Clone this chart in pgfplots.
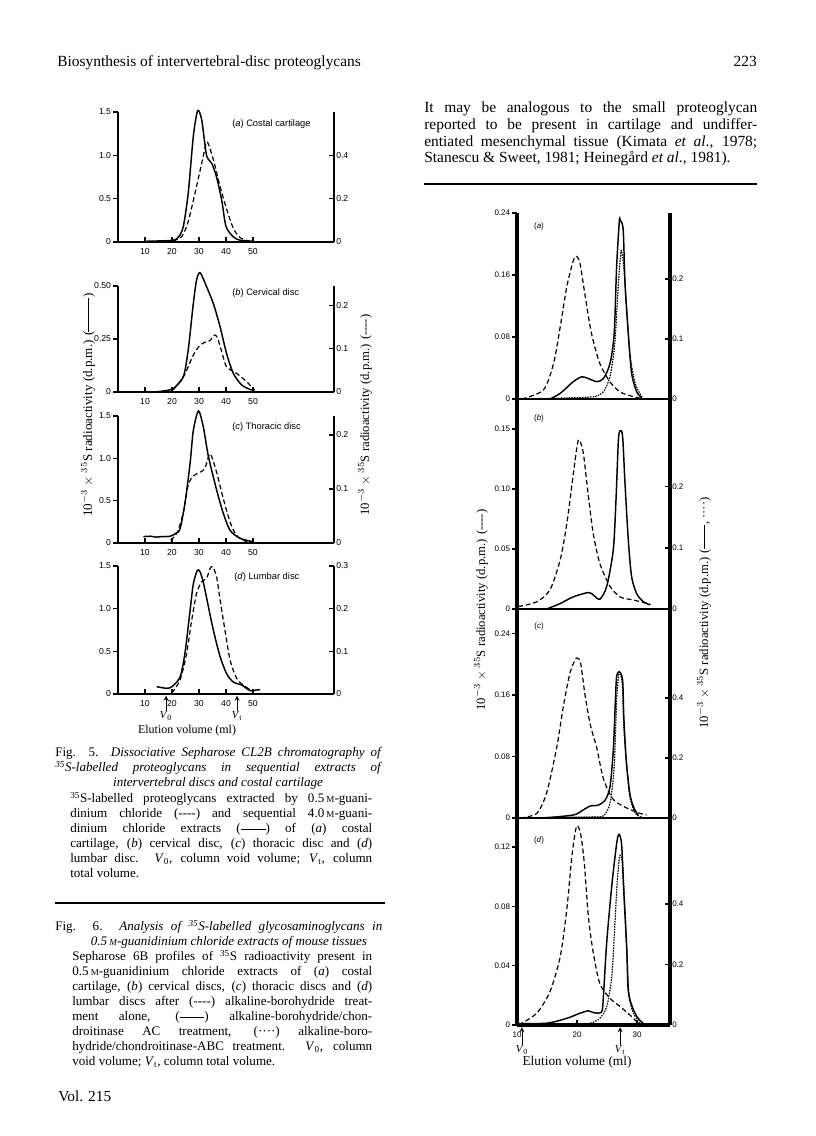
\documentclass[border=0pt]{standalone}
\usepackage{fontspec}
\setmainfont{Liberation Serif}
\setsansfont{Liberation Sans}
\usepackage{pgfplots}
\pgfplotsset{compat=1.18}
\newcommand\M{{\fontsize{6.8}{7}\selectfont M}}
\newcommand\srule{\rule[0.55ex]{1.9em}{0.45pt}}
\newcommand\lrule{\rule[0.55ex]{2.6em}{0.5pt}}
\newcommand\dsh{-{}-{}-{}-}
\tikzset{
 solidc/.style={black, line width=1.1pt, smooth, tension=0.45},
 dashc/.style={black, line width=0.9pt, dash pattern=on 3.6pt off 2.2pt, smooth, tension=0.45},
 dotc/.style={black, line width=1pt, dash pattern=on 0.5pt off 1.5pt, line cap=round, smooth, tension=0.45},
 arr/.style={->, >=stealth, line width=0.7pt},
 ln/.style={anchor=base west, inner sep=0pt},
}
\pgfplotsset{
 fbase/.style={scale only axis, clip=false, anchor=south west, ymin=0,
   tick label style={font=\sffamily\fontsize{6.5}{7}\selectfont, inner sep=1.5pt},
   major tick length=3.5pt, every tick/.style={black, line width=0.9pt}},
 f5L/.style={fbase, xmin=0, xmax=80, width=162pt, axis x line*=bottom, axis y line*=left,
   axis line style={-, line width=1.1pt}, x axis line style={-, line width=1.6pt},
   xtick={10,20,30,40,50}, xticklabels={10,20,30,40,50}, tick align=outside,
   every x tick/.append style={yshift=3.5pt}},
 f5R/.style={fbase, xmin=0, xmax=80, width=162pt, axis x line=none, axis y line*=right,
   axis line style={-, line width=1.8pt}, xtick=\empty, tick align=inside},
 f6L/.style={fbase, xmin=10, xmax=35.5, width=114.75pt, axis x line*=bottom, axis y line*=left,
   axis line style={-}, y axis line style={-, line width=3pt}, x axis line style={-, line width=0.8pt},
   xtick=\empty, tick align=outside, tick label style={font=\sffamily\fontsize{6}{7}\selectfont}},
 f6R/.style={fbase, xmin=10, xmax=35.5, width=114.75pt, axis x line=none, axis y line*=right,
   axis line style={-, line width=2.6pt}, xtick=\empty, tick align=inside,
   tick label style={font=\sffamily\fontsize{6}{7}\selectfont}},
}
\begin{document}
\begin{tikzpicture}[x=0.75pt,y=0.75pt]
\fill[white] (0,0) rectangle (816,1136);
\useasboundingbox (0,0) rectangle (816,1136);

% ---------- page text ----------
\node[ln, font=\fontsize{11.6}{13}\selectfont] at (57,{1136-67}) {Biosynthesis of intervertebral-disc proteoglycans};
\node[anchor=base east, inner sep=0pt, font=\fontsize{11.6}{13}\selectfont] at (757,{1136-67}) {223};

\begin{scope}[font=\fontsize{11.6}{13}\selectfont]
\node[ln] at (424,{1136-113}) {\makebox[249.75pt][s]{It may be analogous to the small proteoglycan}};
\node[ln] at (424,{1136-130}) {\makebox[249.75pt][s]{reported to be present in cartilage and undiffer-}};
\node[ln] at (424,{1136-147}) {\makebox[249.75pt][s]{entiated mesenchymal tissue (Kimata \textit{et al}., 1978;}};
\node[ln] at (424,{1136-163}) {Stanescu \& Sweet, 1981; Heinegård \textit{et al}., 1981).};
\end{scope}
\draw[line width=1pt] (424,{1136-184}) -- (757,{1136-184});

\begin{scope}[font=\fontsize{9.8}{11}\selectfont]
\node[ln] at (55,{1136-757}) {\makebox[245.25pt][s]{Fig. 5. \textit{Dissociative Sepharose CL2B chromatography of}}};
\node[ln] at (55,{1136-772}) {\makebox[245.25pt][s]{\textit{\textsuperscript{35}S-labelled proteoglycans in sequential extracts of}}};
\node[anchor=base, inner sep=0pt] at (218,{1136-787}) {\textit{intervertebral discs and costal cartilage}};
\node[ln] at (70,{1136-803}) {\makebox[226.5pt][s]{\textsuperscript{35}S-labelled proteoglycans extracted by 0.5\,\M-guani-}};
\node[ln] at (70,{1136-818}) {\makebox[226.5pt][s]{dinium chloride (\dsh) and sequential 4.0\,\M-guani-}};
\node[ln] at (70,{1136-833}) {\makebox[226.5pt][s]{dinium chloride extracts (\srule) of (\textit{a}) costal}};
\node[ln] at (70,{1136-848}) {\makebox[226.5pt][s]{cartilage, (\textit{b}) cervical disc, (\textit{c}) thoracic disc and (\textit{d})}};
\node[ln] at (70,{1136-863}) {\makebox[226.5pt][s]{lumbar disc. \textit{V}\textsubscript{0}, column void volume; \textit{V}\textsubscript{t}, column}};
\node[ln] at (70,{1136-878}) {total volume.};

\node[ln] at (55,{1136-931}) {\makebox[245.25pt][s]{Fig. 6. \textit{Analysis of \textsuperscript{35}S-labelled glycosaminoglycans in}}};
\node[anchor=base, inner sep=0pt] at (229,{1136-946}) {\textit{0.5\,\M-guanidinium chloride extracts of mouse tissues}};
\node[ln] at (72,{1136-961}) {\makebox[225pt][s]{Sepharose 6B profiles of \textsuperscript{35}S radioactivity present in}};
\node[ln] at (72,{1136-976}) {\makebox[225pt][s]{0.5\,\M-guanidinium chloride extracts of (\textit{a}) costal}};
\node[ln] at (72,{1136-991}) {\makebox[225pt][s]{cartilage, (\textit{b}) cervical discs, (\textit{c}) thoracic discs and (\textit{d})}};
\node[ln] at (72,{1136-1006}) {\makebox[225pt][s]{lumbar discs after (\dsh) alkaline-borohydride treat-}};
\node[ln] at (72,{1136-1021}) {\makebox[225pt][s]{ment alone, (\srule) alkaline-borohydride/chon-}};
\node[ln] at (72,{1136-1036}) {\makebox[225pt][s]{droitinase AC treatment, (····) alkaline-boro-}};
\node[ln] at (72,{1136-1051}) {\makebox[225pt][s]{hydride/chondroitinase-ABC treatment. \textit{V}\textsubscript{0}, column}};
\node[ln] at (72,{1136-1066}) {void volume; \textit{V}\textsubscript{t}, column total volume.};
\end{scope}
\draw[line width=1pt] (55,{1136-903}) -- (385,{1136-903});
\node[ln, font=\fontsize{11.5}{13}\selectfont] at (58,{1136-1101}) {Vol. 215};

% ---------- Fig. 5 ----------
% (a)
\begin{axis}[f5L, at={(88.5pt,670.5pt)}, height=97.5pt, ymax=1.5, ytick={0,0.5,1,1.5}, yticklabels={0,0.5,1.0,1.5}]
\addplot[solidc] coordinates {(10.6,0.01) (15,0.012) (20.4,0.02) (22.5,0.06) (24.2,0.18) (26.0,0.56) (27.9,1.22) (29.5,1.515) (31.0,1.41) (32.8,1.0) (34.7,0.91) (36.5,0.75) (38.4,0.485) (40,0.18) (42.7,0.06) (45.2,0.02) (50,0.01)};
\end{axis}
\begin{axis}[f5R, at={(88.5pt,670.5pt)}, height=97.5pt, ymax=0.6, ytick={0,0.2,0.4}, yticklabels={0,0.2,0.4}]
\addplot[dashc] coordinates {(20.4,0.005) (23.6,0.025) (26.0,0.094) (29.1,0.257) (31.6,0.397) (33.0,0.462) (35.3,0.381) (37.8,0.257) (40.3,0.149) (42.7,0.064) (45.2,0.02) (48.3,0.005)};
\end{axis}
% (b)
\begin{axis}[f5L, at={(88.5pt,558pt)}, height=79.5pt, ymax=0.5, ytick={0,0.25,0.5}, yticklabels={0,0.25,0.50}]
\addplot[solidc] coordinates {(13.1,0.0) (17,0.005) (20.5,0.017) (24.2,0.072) (26.0,0.198) (27.9,0.418) (29.1,0.528) (30.4,0.563) (32.8,0.497) (35.3,0.418) (37.8,0.308) (40.2,0.182) (42.7,0.088) (45.8,0.033) (49.5,0.009)};
\end{axis}
\begin{axis}[f5R, at={(88.5pt,558pt)}, height=79.5pt, ymax=0.244, ytick={0,0.1,0.2}, yticklabels={0,0.1,0.2}]
\addplot[dashc] coordinates {(20.5,0.005) (24.2,0.035) (26.0,0.058) (27.9,0.085) (30.4,0.108) (32.8,0.116) (34,0.118) (35.7,0.131) (36.8,0.125) (38.6,0.089) (40.2,0.058) (43.9,0.043) (47.6,0.024) (50.6,0.004)};
\end{axis}
% (c)
\begin{axis}[f5L, at={(88.5pt,444.75pt)}, height=95.25pt, ymax=1.5, ytick={0,0.5,1,1.5}, yticklabels={0,0.5,1.0,1.5}]
\addplot[solidc] coordinates {(9.4,0.075) (12,0.08) (14,0.07) (16,0.075) (19.3,0.08) (21.5,0.115) (23.0,0.17) (24.8,0.47) (26.7,0.94) (27.9,1.33) (29.8,1.56) (31.6,1.37) (33.5,1.02) (36.5,0.63) (39.0,0.35) (41.5,0.15) (45.2,0.055) (50.1,0.015)};
\end{axis}
\begin{axis}[f5R, at={(88.5pt,444.75pt)}, height=95.25pt, ymax=0.235, ytick={0,0.1,0.2}, yticklabels={0,0.1,0.2}]
\addplot[dashc] coordinates {(19.5,0.005) (22,0.02) (24.2,0.057) (26.0,0.107) (27.9,0.124) (30.4,0.131) (32.2,0.138) (34.1,0.165) (36.5,0.131) (39.0,0.082) (41.5,0.039) (43.9,0.014) (47.7,0.002) (50.7,0)};
\end{axis}
% (d)
\begin{axis}[f5L, at={(88.5pt,331.5pt)}, height=96pt, ymax=1.5, ytick={0,0.5,1,1.5}, yticklabels={0,0.5,1.0,1.5}]
\addplot[solidc] coordinates {(14.3,0.086) (18.0,0.067) (20.0,0.086) (23.0,0.2) (24.8,0.48) (26.7,0.98) (27.9,1.29) (29.4,1.45) (30.4,1.43) (31.6,1.31) (33.5,1.02) (35.3,0.75) (37.8,0.44) (40.2,0.24) (42.7,0.14) (45.8,0.105) (48.9,0.04) (51.3,0.047) (52.6,0.05)};
\draw[arr] (axis cs:17.8,-0.2) -- (axis cs:17.8,-0.02);
\draw[arr] (axis cs:44.1,-0.2) -- (axis cs:44.1,-0.02);
\node[anchor=north, inner sep=0.5pt, font=\fontsize{8}{9}\selectfont] at (axis cs:17.8,-0.2) {\textit{V}\textsubscript{0}};
\node[anchor=north, inner sep=0.5pt, font=\fontsize{8}{9}\selectfont] at (axis cs:44.1,-0.2) {\textit{V}\textsubscript{t}};
\end{axis}
\begin{axis}[f5R, at={(88.5pt,331.5pt)}, height=96pt, ymax=0.3, ytick={0,0.1,0.2,0.3}, yticklabels={0,0.1,0.2,0.3}]
\addplot[dashc] coordinates {(19.9,0.002) (23.0,0.033) (25.4,0.095) (27.3,0.173) (29.1,0.236) (31.0,0.263) (32.8,0.271) (34.1,0.294) (35.1,0.298) (36.5,0.275) (37.8,0.221) (39.6,0.15) (41.5,0.08) (43.9,0.037) (46.4,0.021) (50.1,0.005)};
\end{axis}
\begin{scope}[font=\sffamily\fontsize{7}{8}\selectfont]
\node[anchor=west, inner sep=0pt] at (232,{1136-124}) {(\textit{a}) Costal cartilage};
\node[anchor=west, inner sep=0pt] at (232,{1136-293}) {(\textit{b}) Cervical disc};
\node[anchor=west, inner sep=0pt] at (232,{1136-427}) {(\textit{c}) Thoracic disc};
\node[anchor=west, inner sep=0pt] at (234,{1136-577}) {(\textit{d}) Lumbar disc};
\end{scope}
\node[font=\fontsize{9}{10}\selectfont] at (187,{1136-731}) {Elution volume (ml)};
\node[rotate=90, font=\fontsize{9.8}{10}\selectfont] at (88,{1136-405}) {10$^{-3}\times{}^{35}$S radioactivity (d.p.m.) (\lrule)};
\node[rotate=90, font=\fontsize{9.5}{10}\selectfont] at (365,{1136-415}) {10$^{-3}\times{}^{35}$S radioactivity (d.p.m.) (\dsh)};

% ---------- Fig. 6 ----------
% (a)
\begin{axis}[f6L, at={(387.75pt,552.75pt)}, height=139.5pt, ymax=0.24, ytick={0,0.08,0.16,0.24}, yticklabels={0,0.08,0.16,0.24}]
\addplot[dashc] coordinates {(10.8,0) (14.4,0.0116) (16.1,0.046) (17.2,0.093) (18.3,0.145) (19.4,0.179) (19.95,0.184) (20.5,0.175) (21.3,0.136) (22.4,0.085) (23.8,0.046) (25.5,0.022) (27.2,0.009) (29.4,0.003) (31.3,0)};
\end{axis}
\begin{axis}[f6R, at={(387.75pt,552.75pt)}, height=139.5pt, ymax=0.31, ytick={0,0.1,0.2}, yticklabels={0,0.1,0.2}]
\addplot[solidc] coordinates {(15.5,0) (17.2,0.0094) (19.4,0.029) (20.8,0.037) (21.9,0.034) (23.3,0.029) (24.4,0.034) (25.5,0.059) (26.2,0.109) (26.6,0.22) (27.05,0.296) (27.2,0.298) (27.7,0.282) (28.0,0.193) (28.55,0.109) (29.1,0.043) (29.95,0.012) (30.8,0.002)};
\addplot[dotc] coordinates {(10.7,0) (16,0.001) (21.9,0.003) (23.3,0.005) (24.4,0.012) (25.5,0.037) (26.3,0.093) (26.9,0.193) (27.3,0.243) (27.45,0.246) (27.8,0.22) (28.3,0.148) (28.8,0.076) (29.7,0.026) (30.8,0.004)};
\end{axis}
% (b)
\begin{axis}[f6L, at={(387.75pt,395.25pt)}, height=157.5pt, ymax=0.175, ytick={0,0.05,0.1,0.15}, yticklabels={0,0.05,0.10,0.15}]
\addplot[dashc] coordinates {(10.2,0.002) (13.3,0.006) (15.5,0.016) (17.2,0.041) (18.3,0.071) (19.4,0.113) (20.05,0.137) (20.4,0.141) (21.05,0.130) (21.9,0.094) (22.7,0.063) (23.8,0.038) (25.5,0.019) (27.2,0.010) (29.4,0.0075) (32.2,0.004)};
\end{axis}
\begin{axis}[f6R, at={(387.75pt,395.25pt)}, height=157.5pt, ymax=0.344, ytick={0,0.1,0.2}, yticklabels={0,0.1,0.2}]
\addplot[solidc] coordinates {(14.95,0) (17.2,0.009) (19.4,0.02) (21.9,0.027) (22.7,0.023) (23.8,0.016) (24.95,0.037) (26.05,0.097) (26.5,0.179) (26.9,0.277) (27.2,0.292) (27.6,0.283) (28.0,0.206) (28.55,0.113) (29.1,0.053) (29.95,0.025) (31.05,0.012) (32.2,0.0066)};
\end{axis}
% (c)
\begin{axis}[f6L, at={(387.75pt,238.5pt)}, height=156.75pt, ymax=0.272, ytick={0,0.08,0.16,0.24}, yticklabels={0,0.08,0.16,0.24}]
\addplot[dashc] coordinates {(10.5,0) (13.3,0.006) (14.95,0.033) (16.6,0.091) (17.7,0.144) (18.8,0.188) (19.7,0.206) (20.05,0.208) (20.6,0.202) (21.3,0.162) (22.2,0.122) (23.3,0.091) (24.4,0.051) (26.05,0.024) (28.3,0.013) (30.5,0.006) (31.6,0.004)};
\end{axis}
\begin{axis}[f6R, at={(387.75pt,238.5pt)}, height=156.75pt, ymax=0.697, ytick={0,0.2,0.4}, yticklabels={0,0.2,0.4}]
\addplot[solidc] coordinates {(14.5,0) (19.4,0.01) (21.05,0.027) (22.2,0.04) (23.55,0.043) (24.7,0.06) (25.5,0.104) (26.05,0.227) (26.4,0.393) (26.6,0.471) (27.05,0.488) (27.6,0.46) (27.8,0.338) (28.2,0.193) (28.8,0.082) (29.4,0.038) (30.2,0.008)};
\addplot[dotc] coordinates {(10.5,0) (15,0.002) (20,0.003) (23,0.004) (24.4,0.007) (25.5,0.049) (26.2,0.171) (26.6,0.393) (26.95,0.478) (27.2,0.483) (27.6,0.438) (27.8,0.304) (28.3,0.171) (28.8,0.071) (29.7,0.016) (30.8,0.003)};
\end{axis}
% (d)
\begin{axis}[f6L, at={(387.75pt,83.25pt)}, height=155.25pt, ymax=0.1396, ytick={0,0.04,0.08,0.12}, yticklabels={0,0.04,0.08,0.12},
  x axis line style={-, line width=2.6pt}, xtick={10,20,30}, xticklabels={10,20,30},
  every x tick/.append style={yshift=3.5pt}]
\addplot[dashc] coordinates {(10.3,0) (13.3,0.008) (15.5,0.0226) (17.2,0.046) (18.3,0.078) (19.1,0.112) (19.7,0.130) (20.05,0.1345) (20.6,0.129) (21.2,0.110) (21.9,0.073) (22.7,0.049) (23.8,0.028) (25.5,0.018) (27.2,0.0124) (28.8,0.0068) (30.2,0.0014) (31.05,0)};
\draw[arr] (axis cs:10.83,-0.0135) -- (axis cs:10.83,-0.0015);
\draw[arr] (axis cs:27.17,-0.0135) -- (axis cs:27.17,-0.0015);
\node[anchor=north, inner sep=0.5pt, font=\fontsize{8}{9}\selectfont] at (axis cs:10.83,-0.0135) {\textit{V}\textsubscript{0}};
\node[anchor=north, inner sep=0.5pt, font=\fontsize{8}{9}\selectfont] at (axis cs:27.17,-0.0135) {\textit{V}\textsubscript{t}};
\end{axis}
\begin{axis}[f6R, at={(387.75pt,83.25pt)}, height=155.25pt, ymax=0.684, ytick={0,0.2,0.4}, yticklabels={0,0.2,0.4}]
\addplot[solidc] coordinates {(10.3,0.005) (15,0.006) (18.3,0.022) (20.5,0.039) (21.9,0.047) (22.7,0.041) (24.1,0.043) (24.4,0.094) (24.95,0.272) (25.8,0.461) (26.5,0.583) (26.8,0.622) (27.05,0.63) (27.45,0.594) (27.8,0.439) (28.3,0.25) (28.55,0.111) (29.4,0.05) (30.2,0.022) (31.05,0.005)};
\addplot[dotc] coordinates {(10.3,0) (18,0.002) (22,0.005) (23.8,0.022) (24.95,0.061) (25.8,0.161) (26.3,0.328) (26.7,0.472) (27.05,0.55) (27.3,0.561) (27.6,0.528) (28.0,0.383) (28.3,0.239) (28.7,0.094) (29.4,0.039) (30.5,0.005)};
\end{axis}
\begin{scope}[font=\sffamily\fontsize{6}{7}\selectfont]
\node at (539,{1136-226}) {(\textit{a})};
\node at (539,{1136-418}) {(\textit{b})};
\node at (539,{1136-626}) {(\textit{c})};
\node at (539,{1136-840}) {(\textit{d})};
\end{scope}
\node[font=\fontsize{10}{11}\selectfont] at (577,{1136-1062}) {Elution volume (ml)};
\node[rotate=90, font=\fontsize{9.5}{10}\selectfont] at (481,{1136-610}) {10$^{-3}\times{}^{35}$S radioactivity (d.p.m.) (\dsh)};
\node[rotate=90, font=\fontsize{9.5}{10}\selectfont] at (704,{1136-613}) {10$^{-3}\times{}^{35}$S radioactivity (d.p.m.) (\srule, ····)};
\end{tikzpicture}
\end{document}
